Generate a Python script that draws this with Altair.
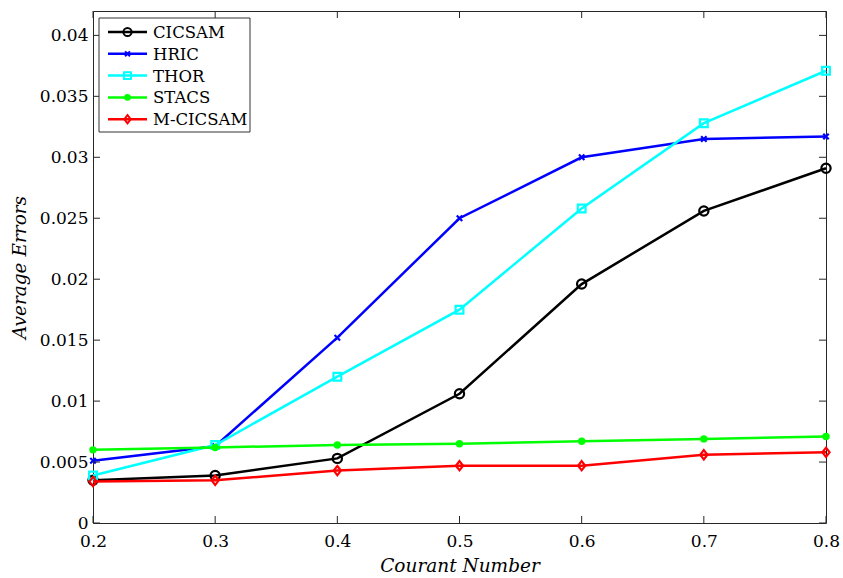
import altair as alt
import pandas as pd

# Courant numbers and average errors per scheme
courant = [0.2, 0.3, 0.4, 0.5, 0.6, 0.7, 0.8]
cicsam = [0.0035, 0.0039, 0.0053, 0.0106, 0.0196, 0.0256, 0.0291]
hric = [0.0051, 0.0063, 0.0152, 0.0250, 0.0300, 0.0315, 0.0317]
thor = [0.0039, 0.0064, 0.0120, 0.0175, 0.0258, 0.0328, 0.0371]
stacs = [0.0060, 0.0062, 0.0064, 0.0065, 0.0067, 0.0069, 0.0071]
m_cicsam = [0.0034, 0.0035, 0.0043, 0.0047, 0.0047, 0.0056, 0.0058]

x_ticks = [0.2, 0.3, 0.4, 0.5, 0.6, 0.7, 0.8]
y_ticks = [0, 0.005, 0.01, 0.015, 0.02, 0.025, 0.03, 0.035, 0.04]

W, H = 733, 512
FONT = "DejaVu Serif"
X_DOMAIN = [0.2, 0.8]
Y_DOMAIN = [0, 0.042]

# marker shapes (SVG paths for the x-cross and diamond)
X_MARK = "M-1,-1L1,1M-1,1L1,-1"
DIAMOND = "M0,-1L0.78,0L0,1L-0.78,0Z"

series = [
    ("CICSAM", cicsam, "#000000", "circle", False, 85),
    ("HRIC", hric, "#0000ff", X_MARK, False, 30),
    ("THOR", thor, "#00ffff", "square", False, 60),
    ("STACS", stacs, "#00ff00", "circle", True, 55),
    ("M-CICSAM", m_cicsam, "#ff0000", DIAMOND, False, 85),
]

xs = alt.Scale(domain=X_DOMAIN, nice=False, zero=False)
ys = alt.Scale(domain=Y_DOMAIN, nice=False, zero=False)
x_axis = alt.Axis(values=x_ticks, format="~g", title="Courant Number", labelFlush=False)
y_axis = alt.Axis(values=y_ticks, format="~g", title="Average Errors", labelFlush=False)


def X(field="x"):
    return alt.X(f"{field}:Q", scale=xs, axis=x_axis)


def Y(field="y"):
    return alt.Y(f"{field}:Q", scale=ys, axis=y_axis)


layers = []

for name, vals, color, shape, filled, size in series:
    df = pd.DataFrame({"x": courant, "y": vals})
    line = alt.Chart(df).mark_line(color=color, strokeWidth=2.5).encode(x=X(), y=Y())
    pts = alt.Chart(df).mark_point(
        shape=shape, filled=filled, size=size, color=color,
        strokeWidth=2.2, opacity=1,
    ).encode(x=X(), y=Y())
    layers += [line, pts]

# inward tick marks on all four sides
yt = pd.DataFrame({"y": y_ticks})
xt = pd.DataFrame({"x": x_ticks})
TL = 7
for x0, x1 in [(0, TL), (W - TL, W)]:
    layers.append(
        alt.Chart(yt).mark_rule(color="#262626", strokeWidth=1).encode(
            y=Y(), x=alt.value(x0), x2=alt.value(x1),
        )
    )
for y0, y1 in [(H - TL, H), (0, TL)]:
    layers.append(
        alt.Chart(xt).mark_rule(color="#262626", strokeWidth=1).encode(
            x=X(), y=alt.value(y0), y2=alt.value(y1),
        )
    )

# legend box
box = alt.Chart(pd.DataFrame({"a": [0]})).mark_rect(
    fill="white", stroke="#333333", strokeWidth=1
).encode(x=alt.value(6), x2=alt.value(157), y=alt.value(7), y2=alt.value(121))
layers.append(box)

for i, (name, vals, color, shape, filled, size) in enumerate(series):
    ly = 21 + i * 21.8
    one = pd.DataFrame({"name": [name]})
    layers.append(
        alt.Chart(one).mark_rule(color=color, strokeWidth=2.5).encode(
            x=alt.value(15), x2=alt.value(54), y=alt.value(ly)
        )
    )
    layers.append(
        alt.Chart(one).mark_point(
            shape=shape, filled=filled, size=size * 0.8, color=color,
            strokeWidth=2, opacity=1,
        ).encode(x=alt.value(34.5), y=alt.value(ly))
    )
    layers.append(
        alt.Chart(one).mark_text(
            align="left", baseline="middle", font=FONT, fontSize=16.5, color="black"
        ).encode(x=alt.value(60), y=alt.value(ly + 1), text="name:N")
    )

chart = alt.layer(*layers).properties(
    width=W, height=H, autosize="none",
    padding={"left": 93, "top": 11, "right": 17, "bottom": 55},
).configure_view(
    stroke="#262626", strokeWidth=1
).configure_axis(
    grid=False, ticks=False, domain=False,
    labelFont=FONT, labelFontSize=17, labelColor="black",
    titleFont=FONT, titleFontSize=18.5, titleFontStyle="italic",
    titleFontWeight="normal", titleColor="black",
).configure_axisY(
    labelPadding=5, titlePadding=10,
).configure_axisX(
    labelPadding=10, titlePadding=7,
)

chart.save("out.html", embed_options={"renderer": "svg", "actions": False})
